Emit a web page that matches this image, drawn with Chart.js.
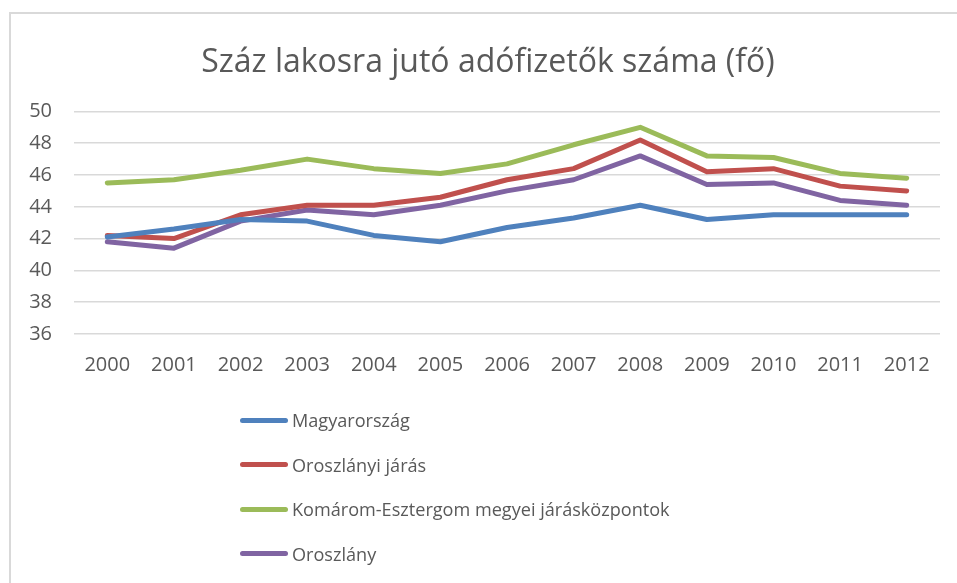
<!DOCTYPE html>
<html>
<head>
<meta charset="utf-8">
<script src="https://cdn.jsdelivr.net/npm/chart.js@4/dist/chart.umd.min.js"></script>
<style>
    body { margin:0; background:#fff; font-family:"Open Sans", sans-serif; }
    #frame {
        position:absolute; left:9px; top:12px; width:960px; height:580px;
        border:2px solid #d9d9d9; box-sizing:border-box;
    }
    #wrap { position:absolute; left:0; top:0; width:957px; height:400px; }
    #legend { position:absolute; left:240px; top:398px; color:#595959; font-size:18.1px; }
    #legend .item { display:flex; align-items:center; height:44.5px; }
    #legend .line { width:48px; height:5px; border-radius:3px; margin-right:4px; }
</style>
</head>
<body>
<div id="frame"></div>
<div id="wrap"><canvas id="taxChart"></canvas></div>
<div id="legend"></div>

<script>
// ---------------- Data ----------------

const years = ["2000","2001","2002","2003","2004","2005","2006","2007","2008","2009","2010","2011","2012"];

const magyarorszag  = [42.1, 42.6, 43.2, 43.1, 42.2, 41.8, 42.7, 43.3, 44.1, 43.2, 43.5, 43.5, 43.5];
const oroszlanyiJaras = [42.2, 42.0, 43.5, 44.1, 44.1, 44.6, 45.7, 46.4, 48.2, 46.2, 46.4, 45.3, 45.0];
const kemJarasKozpontok = [45.5, 45.7, 46.3, 47.0, 46.4, 46.1, 46.7, 47.9, 49.0, 47.2, 47.1, 46.1, 45.8];
const oroszlany     = [41.8, 41.4, 43.1, 43.8, 43.5, 44.1, 45.0, 45.7, 47.2, 45.4, 45.5, 44.4, 44.1];

const seriesNames = ["Magyarország","Oroszlányi járás","Komárom-Esztergom megyei járásközpontok","Oroszlány"];
const yTicks = [36, 50, 2]; // min, max, step

const textColor = "#595959";

// ---------------- Chart ----------------

const mk = (label, data, color) => ({
    label: label,
    data: data,
    borderColor: color,
    backgroundColor: color,
    borderWidth: 5,
    pointRadius: 0,
    tension: 0,
    borderCapStyle: "round",
    borderJoinStyle: "round"
});

// left padding is only there to centre the title like the original;
// let the y labels use that space instead of being clipped
const unclipY = {
    id: "unclipY",
    afterLayout(chart) {
        chart.scales.y.left = 0;
    }
};

const chart = new Chart(document.getElementById("taxChart"), {
    type: "line",
    data: {
        labels: years,
        datasets: [
            mk(seriesNames[0], magyarorszag, "#4f81bd"),
            mk(seriesNames[1], oroszlanyiJaras, "#c0504d"),
            mk(seriesNames[2], kemJarasKozpontok, "#9bbb59"),
            mk(seriesNames[3], oroszlany, "#8064a2")
        ]
    },
    options: {
        responsive: true,
        maintainAspectRatio: false,
        animation: false,
        layout: { padding: { left: 36, right: 17, top: 0, bottom: 6 } },
        plugins: {
            legend: { display: false },
            tooltip: { enabled: false },
            title: {
                display: true,
                text: "Száz lakosra jutó adófizetők száma (fő)",
                color: textColor,
                font: { family: "Open Sans", size: 32, weight: "normal", lineHeight: 1.2 },
                padding: { top: 44, bottom: 29 }
            }
        },
        scales: {
            x: {
                offset: true,
                grid: { display: false, drawTicks: false },
                border: { display: false },
                ticks: { color: textColor, font: { family: "Open Sans", size: 20 }, padding: 19, maxRotation: 0 },
                afterFit: (s) => { s.height = 60; }
            },
            y: {
                min: yTicks[0],
                max: yTicks[1],
                grid: { color: "#d9d9d9", lineWidth: 1.5, drawTicks: false },
                border: { display: false },
                ticks: { stepSize: yTicks[2], color: textColor, font: { family: "Open Sans", size: 20 }, padding: 22 },
                afterFit: (s) => { s.width = 38; }
            }
        }
    },
    plugins: [unclipY]
});

// ---------------- Legend (vertical, below the plot) ----------------

const legend = document.getElementById("legend");
chart.data.datasets.forEach(ds => {
    const row = document.createElement("div");
    row.className = "item";
    row.innerHTML = '<span class="line" style="background:' + ds.borderColor + '"></span><span>' + ds.label + '</span>';
    legend.appendChild(row);
});
</script>
</body>
</html>
